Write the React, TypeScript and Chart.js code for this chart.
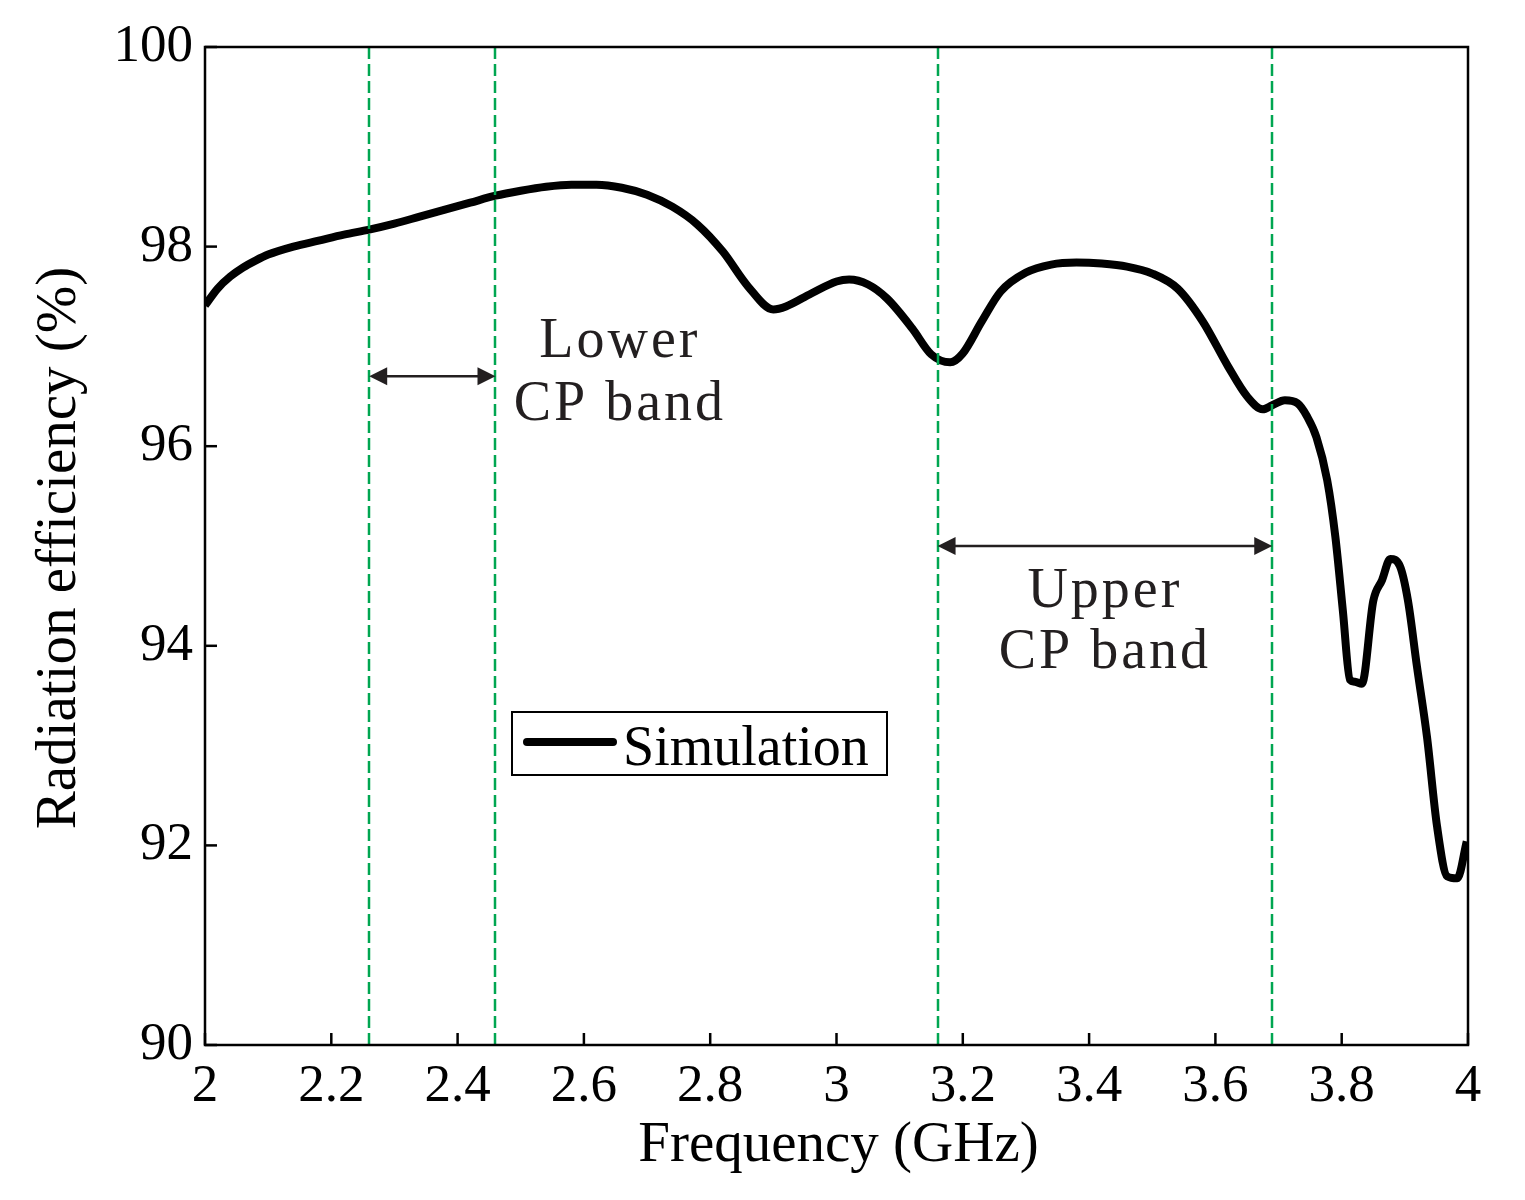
import { Chart, registerables } from "chart.js"
import { useEffect, useRef } from "react"

Chart.register(...registerables)

// frequency (GHz) and simulated radiation efficiency (%)
const freqs = [
    2.0, 2.02, 2.04, 2.06, 2.08, 2.1, 2.14, 2.18, 2.22, 2.26, 2.3, 2.34, 2.38, 2.42, 2.46, 2.5,
    2.54, 2.58, 2.62, 2.66, 2.7, 2.74, 2.78, 2.82, 2.86, 2.9, 2.92, 2.96, 3.0, 3.02, 3.05, 3.08,
    3.12, 3.15, 3.18, 3.2, 3.23, 3.26, 3.3, 3.34, 3.38, 3.42, 3.46, 3.5, 3.54, 3.58, 3.62, 3.65,
    3.675, 3.69, 3.71, 3.73, 3.745, 3.76, 3.777, 3.79, 3.802, 3.813, 3.821, 3.832, 3.85, 3.864,
    3.877, 3.892, 3.905, 3.919, 3.935, 3.951, 3.967, 3.983, 3.998,
]
const efficiency = [
    97.41, 97.58, 97.7, 97.79, 97.86, 97.92, 98.0, 98.06, 98.12, 98.17, 98.23, 98.3, 98.37, 98.44, 98.51, 98.56,
    98.6, 98.62, 98.62, 98.59, 98.52, 98.4, 98.22, 97.95, 97.6, 97.37, 97.4, 97.53, 97.65, 97.67, 97.62, 97.48,
    97.18, 96.92, 96.84, 96.93, 97.25, 97.55, 97.74, 97.82, 97.84, 97.83, 97.8, 97.73, 97.58, 97.25, 96.8, 96.5,
    96.37, 96.41, 96.46, 96.43, 96.3, 96.09, 95.66, 95.09, 94.34, 93.66, 93.64, 93.62, 94.45, 94.66,
    94.87, 94.8, 94.45, 93.8, 93.09, 92.19, 91.69, 91.67, 92.04,
]

// CP band edges (GHz)
const bandEdges = [2.26, 2.46, 3.16, 3.69]
const bands = [
    { from: 2.26, to: 2.46, arrowAt: 96.7, lines: ["Lower", "CP band"], textX: 2.657, textY: [96.89, 96.26] },
    { from: 3.16, to: 3.69, arrowAt: 95.0, lines: ["Upper", "CP band"], textX: 3.425, textY: [94.39, 93.78] },
]

const serif = '"Liberation Serif", "Times New Roman", serif'

const decorations = {
    id: "decorations",
    afterDatasetsDraw(chart: any) {
        const { ctx, chartArea: a, scales } = chart
        const x = scales.x
        const y = scales.y
        ctx.save()

        // green dashed band edges
        ctx.strokeStyle = "#00a651"
        ctx.lineWidth = 2.5
        ctx.setLineDash([12, 5])
        bandEdges.forEach((f) => {
            const px = Math.round(x.getPixelForValue(f))
            ctx.beginPath()
            ctx.moveTo(px, a.top)
            ctx.lineTo(px, a.bottom)
            ctx.stroke()
        })
        ctx.setLineDash([])

        // double arrows and labels
        ctx.strokeStyle = "#231f20"
        ctx.fillStyle = "#231f20"
        bands.forEach((b) => {
            const x1 = x.getPixelForValue(b.from)
            const x2 = x.getPixelForValue(b.to)
            const py = y.getPixelForValue(b.arrowAt)
            ctx.lineWidth = 2.5
            ctx.beginPath()
            ctx.moveTo(x1 + 10, py)
            ctx.lineTo(x2 - 10, py)
            ctx.stroke()
            ctx.beginPath()
            ctx.moveTo(x1, py)
            ctx.lineTo(x1 + 18, py - 9)
            ctx.lineTo(x1 + 18, py + 9)
            ctx.closePath()
            ctx.fill()
            ctx.beginPath()
            ctx.moveTo(x2, py)
            ctx.lineTo(x2 - 18, py - 9)
            ctx.lineTo(x2 - 18, py + 9)
            ctx.closePath()
            ctx.fill()

            ctx.font = `56px ${serif}`
            ;(ctx as any).letterSpacing = "3px"
            ctx.textAlign = "center"
            ctx.textBaseline = "alphabetic"
            b.lines.forEach((t, i) => {
                ctx.fillText(t, x.getPixelForValue(b.textX), y.getPixelForValue(b.textY[i]))
            })
            ;(ctx as any).letterSpacing = "0px"
        })

        // frame
        ctx.strokeStyle = "#000"
        ctx.lineWidth = 2.5
        ctx.strokeRect(a.left, a.top, a.right - a.left, a.bottom - a.top)

        // inward ticks
        ctx.lineWidth = 2.5
        x.ticks.forEach((t: any) => {
            const px = x.getPixelForValue(t.value)
            ctx.beginPath()
            ctx.moveTo(px, a.bottom)
            ctx.lineTo(px, a.bottom - 12)
            ctx.stroke()
        })
        y.ticks.forEach((t: any) => {
            const py = y.getPixelForValue(t.value)
            ctx.beginPath()
            ctx.moveTo(a.left, py)
            ctx.lineTo(a.left + 12, py)
            ctx.stroke()
        })

        // axis titles
        ctx.fillStyle = "#000"
        ctx.font = `57px ${serif}`
        ctx.textAlign = "center"
        ctx.textBaseline = "middle"
        ctx.fillText("Frequency (GHz)", (a.left + a.right) / 2 + 2, 1146)
        ctx.save()
        ctx.translate(60, (a.top + a.bottom) / 2 + 2)
        ctx.rotate(-Math.PI / 2)
        ctx.fillText("Radiation efficiency (%)", 0, 0)
        ctx.restore()

        // legend
        ctx.lineWidth = 2
        ctx.strokeRect(512, 712, 375, 63)
        ctx.lineWidth = 8
        ctx.lineCap = "round"
        ctx.beginPath()
        ctx.moveTo(527, 742)
        ctx.lineTo(613, 742)
        ctx.stroke()
        ctx.font = `56px ${serif}`
        ctx.textAlign = "left"
        ctx.textBaseline = "alphabetic"
        ctx.fillText("Simulation", 623, 765)

        ctx.restore()
    },
}

const EfficiencyChart = () => {
    const canvasRef = useRef<HTMLCanvasElement>(null)

    useEffect(() => {
        document.body.style.margin = "0"
        if (!canvasRef.current) return
        const points = freqs.map((f, i) => ({ x: f, y: efficiency[i] }))

        const chart = new Chart(canvasRef.current, {
            type: "line",
            data: {
                datasets: [
                    {
                        label: "Simulation",
                        data: points,
                        borderColor: "#000",
                        borderWidth: 8,
                        pointRadius: 0,
                        cubicInterpolationMode: "monotone",
                        borderJoinStyle: "round",
                        borderCapStyle: "butt",
                        fill: false,
                    },
                ],
            },
            options: {
                responsive: false,
                animation: false,
                devicePixelRatio: 1,
                layout: { padding: { left: 0, top: 47, right: 57, bottom: 0 } },
                plugins: { legend: { display: false }, tooltip: { enabled: false } },
                scales: {
                    x: {
                        type: "linear",
                        min: 2,
                        max: 4,
                        grid: { display: false, drawTicks: false },
                        border: { display: false },
                        ticks: {
                            stepSize: 0.2,
                            color: "#000",
                            padding: 10,
                            maxRotation: 0,
                            font: { family: serif, size: 53 },
                            callback: (v: any) => String(Number(Number(v).toFixed(1))),
                        },
                        afterFit: (s: any) => {
                            s.height = 155
                        },
                    },
                    y: {
                        min: 90,
                        max: 100,
                        grid: { display: false, drawTicks: false },
                        border: { display: false },
                        ticks: {
                            stepSize: 2,
                            color: "#000",
                            padding: 12,
                            font: { family: serif, size: 53 },
                        },
                        afterFit: (s: any) => {
                            s.width = 205
                        },
                    },
                },
            },
            plugins: [decorations],
        })

        return () => {
            chart.destroy()
        }
    }, [])

    return (
        <div style={{ width: 1525, height: 1200, background: "#fff" }}>
            <canvas ref={canvasRef} width={1525} height={1200}></canvas>
        </div>
    )
}

export default function App() {
    return <EfficiencyChart />
}
